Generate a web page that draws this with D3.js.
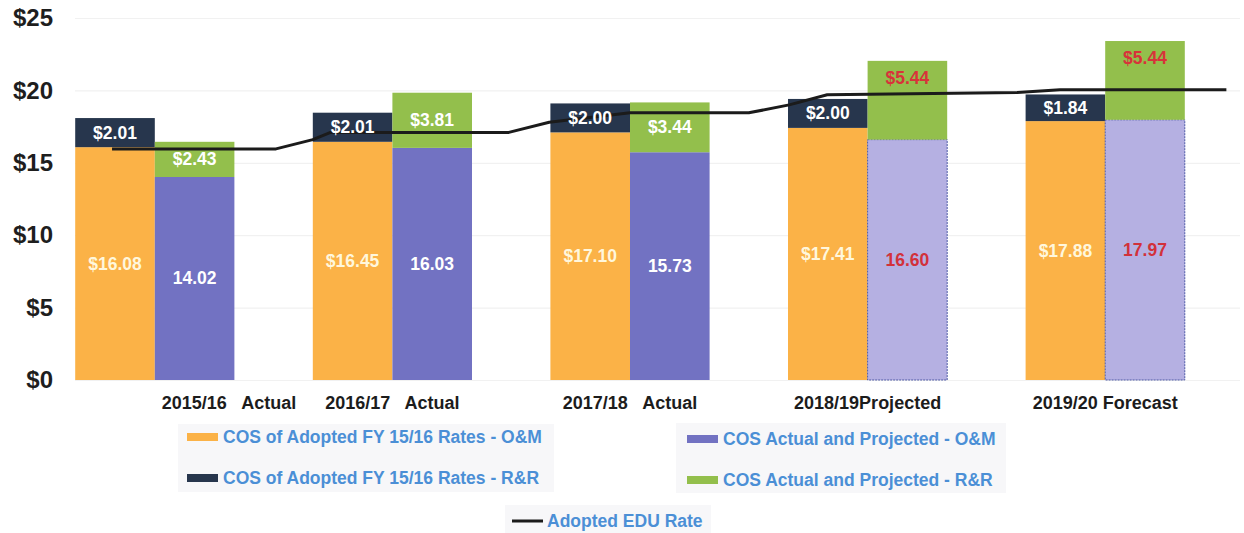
<!DOCTYPE html>
<html>
<head>
<meta charset="utf-8">
<script src="https://cdn.jsdelivr.net/npm/d3@7"></script>
<style>
  html, body { margin: 0; padding: 0; background: #fff; }
  svg { display: block; font-family: "Liberation Sans", Arial, sans-serif; }
</style>
</head>
<body>
<div id="content"></div>
<script>
const years = ['2015/16', '2016/17', '2017/18', '2018/19', '2019/20'];
const xLabels = ['2015/16   Actual', '2016/17   Actual', '2017/18   Actual', '2018/19Projected', '2019/20 Forecast'];

// COS of adopted FY 15/16 rates
const adoptedOM = [16.08, 16.45, 17.10, 17.41, 17.88];
const adoptedRR = [2.01, 2.01, 2.00, 2.00, 1.84];
// COS actual and projected
const actualOM = [14.02, 16.03, 15.73, 16.60, 17.97];
const actualRR = [2.43, 3.81, 3.44, 5.44, 5.44];
const isProjected = [false, false, false, true, true];

// adopted EDU rate, position in year units (0 = first year)
const eduPos = [-0.18, 0.51, 0.665, 0.74, 1.49, 1.66, 2.0, 2.5, 2.67, 2.83, 3.63, 3.81, 4.51];
const eduRate = [15.96, 15.96, 16.6, 17.1, 17.1, 17.8, 18.45, 18.45, 19.0, 19.7, 19.85, 20.05, 20.05];

const yTicks = [0, 5, 10, 15, 20, 25];

const legendItems = [
    { label: 'COS of Adopted FY 15/16 Rates - O&M', key: 'orange' },
    { label: 'COS Actual and Projected - O&M', key: 'blue' },
    { label: 'COS of Adopted FY 15/16 Rates - R&R', key: 'navy' },
    { label: 'COS Actual and Projected - R&R', key: 'green' },
    { label: 'Adopted EDU Rate', key: 'line' },
];

const colors = {
    orange: '#fbb247',
    navy: '#27364d',
    blue: '#7272c2',
    lavender: '#b5b0e2',
    green: '#93bf4c',
    line: '#1b1b1b',
};

const width = 1244;
const height = 533;

const svg = d3.select('#content').append('svg')
    .attr('width', width)
    .attr('height', height);

const x = d3.scaleBand()
    .domain(years)
    .range([36, 1224])
    .paddingInner(0.33)
    .paddingOuter(0.165);

const sub = d3.scaleBand()
    .domain(['adopted', 'actual'])
    .range([0, x.bandwidth()]);

const y = d3.scaleLinear().domain([0, 25]).range([380, 18]);

const xPos = d3.scaleLinear()
    .domain([0, years.length - 1])
    .range([x(years[0]) + x.bandwidth() / 2, x(years[years.length - 1]) + x.bandwidth() / 2]);

// gridlines
svg.append('g')
    .attr('class', 'grid')
    .attr('transform', 'translate(75,0)')
    .call(d3.axisLeft(y).tickValues(yTicks).tickSize(-1165).tickFormat(''))
    .call(g => g.select('.domain').remove())
    .call(g => g.selectAll('line').attr('stroke', '#f1f1f1').attr('stroke-width', 1.2));

// y axis
svg.append('g')
    .attr('transform', 'translate(56,0)')
    .call(d3.axisLeft(y).tickValues(yTicks).tickSize(0).tickPadding(3).tickFormat(d => `$${d}`))
    .call(g => g.select('.domain').remove())
    .call(g => g.selectAll('text')
        .style('font-family', '"Liberation Sans", Arial, sans-serif')
        .style('font-size', '24px')
        .style('font-weight', 'bold')
        .attr('fill', '#1e1e1e'));

// stacked segments
const segments = years.flatMap((yr, i) => [
    { year: yr, col: 'adopted', y0: 0, y1: adoptedOM[i], fill: colors.orange, text: `$${adoptedOM[i].toFixed(2)}`, textColor: '#fff7dc', pos: 'mid' },
    { year: yr, col: 'adopted', y0: adoptedOM[i], y1: adoptedOM[i] + adoptedRR[i], fill: colors.navy, text: `$${adoptedRR[i].toFixed(2)}`, textColor: '#ffffff', pos: 'mid' },
    { year: yr, col: 'actual', y0: 0, y1: actualOM[i], fill: isProjected[i] ? colors.lavender : colors.blue, stroke: isProjected[i] ? '#4f5aa6' : null, text: actualOM[i].toFixed(2), textColor: isProjected[i] ? '#d2313a' : '#ffffff', pos: 'mid' },
    { year: yr, col: 'actual', y0: actualOM[i], y1: actualOM[i] + actualRR[i], fill: colors.green, text: `$${actualRR[i].toFixed(2)}`, textColor: isProjected[i] ? '#d8333a' : '#ffffff', pos: isProjected[i] ? 'top' : 'mid' },
]);

const bars = svg.append('g').attr('class', 'bars');

bars.selectAll('rect')
    .data(segments)
    .enter()
    .append('rect')
    .attr('x', d => x(d.year) + sub(d.col))
    .attr('y', d => y(d.y1))
    .attr('width', sub.bandwidth())
    .attr('height', d => y(d.y0) - y(d.y1))
    .attr('fill', d => d.fill)
    .attr('stroke', d => d.stroke || 'none')
    .attr('stroke-width', 1)
    .attr('stroke-dasharray', '2,1');

// adopted EDU rate line
const line = d3.line()
    .x(d => xPos(d[0]))
    .y(d => y(d[1]));

svg.append('path')
    .datum(eduPos.map((p, i) => [p, eduRate[i]]))
    .attr('d', line)
    .attr('fill', 'none')
    .attr('stroke', colors.line)
    .attr('stroke-width', 3)
    .attr('stroke-linejoin', 'round');

// value labels
svg.append('g').attr('class', 'labels')
    .selectAll('text')
    .data(segments)
    .enter()
    .append('text')
    .attr('x', d => x(d.year) + sub(d.col) + sub.bandwidth() / 2)
    .attr('y', d => d.pos === 'top' ? y(d.y1) + 17 : y((d.y0 + d.y1) / 2))
    .attr('text-anchor', 'middle')
    .attr('dominant-baseline', 'central')
    .style('font-size', '17.5px')
    .style('font-weight', 'bold')
    .attr('fill', d => d.textColor)
    .text(d => d.text);

// x axis labels
svg.append('g')
    .attr('transform', 'translate(0,380)')
    .call(d3.axisBottom(x).tickSize(0).tickPadding(16).tickFormat((d, i) => xLabels[i]))
    .call(g => g.select('.domain').remove())
    .call(g => g.selectAll('text')
        .style('font-family', '"Liberation Sans", Arial, sans-serif')
        .style('font-size', '18px')
        .style('font-weight', 'bold')
        .style('white-space', 'pre')
        .attr('fill', '#1c1c1c'))
    .call(g => g.select('.tick text')
        .attr('text-anchor', 'start')
        .attr('x', 7));

// legend
const legendLayout = [
    { x: 187, y: 437 }, { x: 687, y: 439 },
    { x: 187, y: 478 }, { x: 687, y: 480 },
    { x: 512, y: 521 },
];

const legendBoxes = [
    { x: 178, y: 424, w: 376, h: 68 },
    { x: 676, y: 423, w: 330, h: 70 },
    { x: 505, y: 505, w: 206, h: 28 },
];

svg.append('g').selectAll('rect')
    .data(legendBoxes)
    .enter()
    .append('rect')
    .attr('x', d => d.x).attr('y', d => d.y)
    .attr('width', d => d.w).attr('height', d => d.h)
    .attr('fill', '#f7f7f9');

const legend = svg.append('g').attr('class', 'legend')
    .selectAll('g')
    .data(legendItems)
    .enter()
    .append('g')
    .attr('transform', (d, i) => `translate(${legendLayout[i].x},${legendLayout[i].y})`);

legend.append('rect')
    .attr('x', 0)
    .attr('y', d => d.key === 'line' ? -1.5 : -4)
    .attr('width', 31)
    .attr('height', d => d.key === 'line' ? 3 : 8)
    .attr('fill', d => colors[d.key]);

legend.append('text')
    .attr('x', d => d.key === 'line' ? 35 : 36)
    .attr('y', 0)
    .attr('dominant-baseline', 'central')
    .style('font-size', '17.5px')
    .style('font-weight', 'bold')
    .attr('fill', '#4b8fd6')
    .text(d => d.label);
</script>
</body>
</html>
